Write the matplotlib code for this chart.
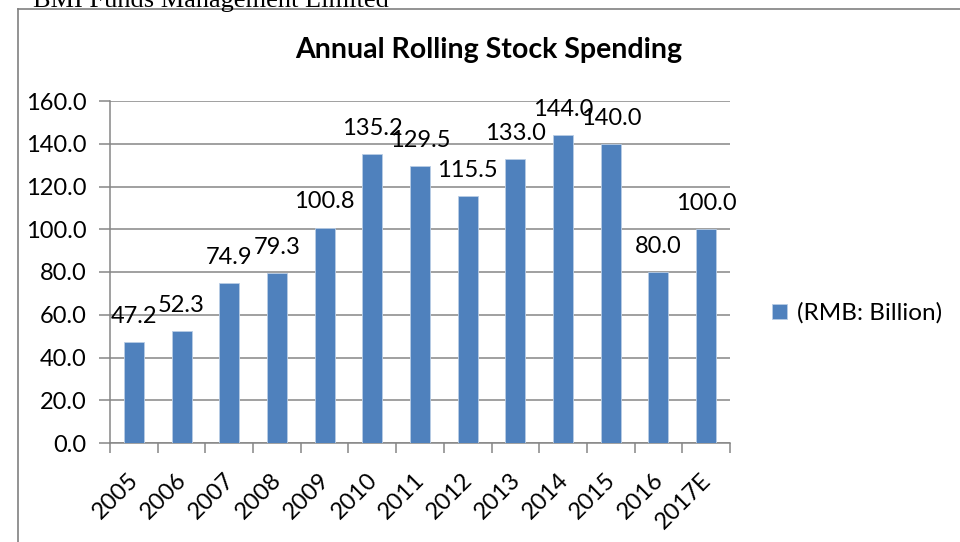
import matplotlib
matplotlib.use("Agg")
import matplotlib.pyplot as plt
import matplotlib.transforms as mtransforms
from matplotlib.lines import Line2D

# ── Data ──────────────────────────────────────────────────────────────────────
years = ["2005", "2006", "2007", "2008", "2009", "2010", "2011",
         "2012", "2013", "2014", "2015", "2016", "2017E"]
spending = [47.2, 52.3, 74.9, 79.3, 100.8, 135.2, 129.5,
            115.5, 133.0, 144.0, 140.0, 80.0, 100.0]
y_ticks = [0, 20, 40, 60, 80, 100, 120, 140, 160]

BAR_COLOR = "#4F81BD"
GRID_COLOR = "#868686"
FONT = ["Lato", "DejaVu Sans"]

plt.rcParams["font.family"] = FONT

fig = plt.figure(figsize=(9.6, 5.42), dpi=100)
ax = fig.add_axes([110 / 960, 1 - 443 / 542, 620 / 960, 342 / 542])

x = list(range(len(years)))
bars = ax.bar(x, spending, width=0.42, color=BAR_COLOR,
              edgecolor="#B9CDE5", linewidth=0.6, zorder=3,
              label="(RMB: Billion)")

for xi, v in zip(x, spending):
    ax.annotate(f"{v:.1f}", (xi, v), xytext=(0, 18.5), textcoords="offset points",
                ha="center", va="center", fontsize=17, color="black", zorder=4)

ax.set_xlim(-0.5, len(years) - 0.5)
ax.set_ylim(0, 160)
ax.set_yticks(y_ticks)
ax.set_yticklabels([f"{t:.1f}" for t in y_ticks], fontsize=17)
ax.yaxis.grid(True, color=GRID_COLOR, linewidth=1.1, zorder=0)
ax.tick_params(axis="y", length=8, width=1.1, color=GRID_COLOR, pad=9)

# category boundaries as tick marks, labels at the centres
ax.set_xticks([i - 0.5 for i in range(len(years) + 1)])
ax.set_xticklabels([])
ax.tick_params(axis="x", which="major", length=7, width=1.1, color=GRID_COLOR)
ax.set_xticks(x, minor=True)
ax.set_xticklabels(years, minor=True, rotation=45, ha="right",
                   rotation_mode="anchor", fontsize=17)
ax.tick_params(axis="x", which="minor", length=0, pad=19)
shift = mtransforms.ScaledTranslation(-6 / 100, 0, fig.dpi_scale_trans)
for lbl in ax.get_xticklabels(minor=True):
    lbl.set_transform(lbl.get_transform() + shift)

for side in ("top", "right"):
    ax.spines[side].set_visible(False)
for side in ("left", "bottom"):
    ax.spines[side].set_color(GRID_COLOR)
    ax.spines[side].set_linewidth(1.1)

fig.text(0.509, 0.908, "Annual Rolling Stock Spending", ha="center", va="center",
         fontsize=20.5, fontweight="bold")

fig.legend(handles=[bars], loc="center left", bbox_to_anchor=(0.794, 0.422),
           frameon=False, fontsize=17.5, handlelength=0.6, handleheight=0.6,
           handletextpad=0.45, borderaxespad=0)

# page header and frame around the chart
fig.text(33 / 960, 1 - 7 / 542, "BMI Funds Management Limited", ha="left",
         va="baseline", fontsize=19, family="Liberation Serif")
fig.add_artist(Line2D([18 / 960, 1], [1 - 9 / 542, 1 - 9 / 542],
                      transform=fig.transFigure, color="#808080", linewidth=1.2))
fig.add_artist(Line2D([18 / 960, 18 / 960], [0, 1 - 9 / 542],
                      transform=fig.transFigure, color="#808080", linewidth=1.2))

fig.savefig("out.png", dpi=100)
